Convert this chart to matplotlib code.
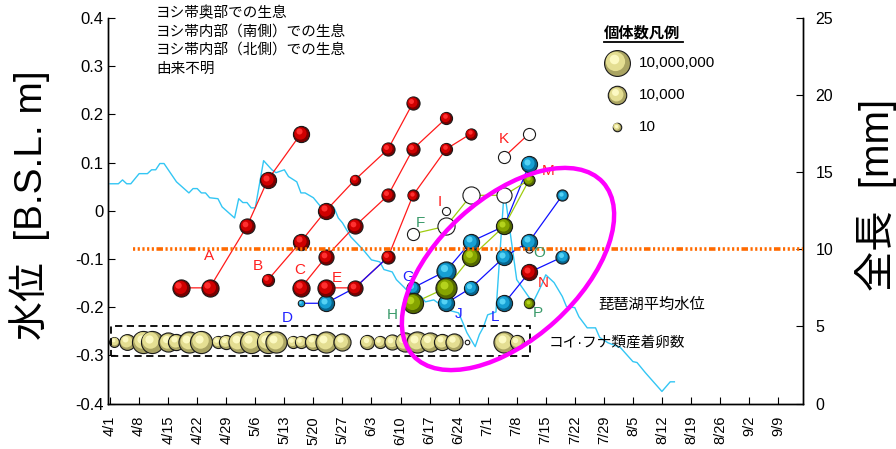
import matplotlib
matplotlib.use("Agg")
import matplotlib.pyplot as plt
import numpy as np
from datetime import date
from matplotlib.patches import Ellipse, Rectangle
from matplotlib.lines import Line2D
from matplotlib.transforms import offset_copy

plt.rcParams['font.family'] = ['Liberation Sans', 'Noto Sans CJK JP']
plt.rcParams['axes.unicode_minus'] = False

# ---------------- data ----------------
# Lake Biwa mean water level (days after 4/1, m B.S.L.)
wl_day = [0, 2, 3, 4, 5, 7, 9, 10, 11, 12, 13, 16, 19, 20, 21, 22, 23, 24, 26, 27,
          30, 31, 32, 33, 34, 35, 37, 39, 40, 42, 43, 45, 46, 47, 49, 51, 54, 55, 56, 58,
          61, 63, 65, 66, 68, 69, 71, 72, 74, 75, 76, 78, 79, 81, 84, 85, 86, 88, 89, 90,
          91, 93, 95, 98, 101, 102, 104, 105, 107, 109, 110, 112, 113, 115, 117, 118, 120,
          123, 126, 127, 129, 133, 135, 136]
wl_level = [0.056, 0.056, 0.064, 0.056, 0.056, 0.077, 0.077, 0.085, 0.085, 0.098, 0.098,
            0.060, 0.037, 0.046, 0.046, 0.037, 0.037, 0.027, 0.025, 0.008, -0.015, 0.025,
            0.017, 0.017, 0.006, 0.006, 0.104, 0.085, 0.079, 0.085, 0.071, 0.060, 0.037,
            0.037, 0.027, 0.006, 0.006, -0.015, -0.025, -0.054, -0.081, -0.102, -0.106,
            -0.122, -0.127, -0.143, -0.160, -0.170, -0.174, -0.178, -0.189, -0.185, -0.191,
            -0.205, -0.212, -0.232, -0.253, -0.282, -0.257, -0.241, -0.216, -0.210, 0.044,
            -0.143, -0.180, -0.189, -0.154, -0.133, -0.149, -0.178, -0.199, -0.201, -0.220,
            -0.243, -0.243, -0.263, -0.274, -0.284, -0.313, -0.315, -0.336, -0.375, -0.355,
            -0.355]

# carp / crucian carp eggs attached (survey days after 4/1, counts)
egg_day = [1, 4, 8, 10, 14, 16, 19, 22, 26, 28, 31, 34, 38, 40, 44, 46, 49, 52, 56,
           62, 65, 68, 71, 74, 77, 80, 83, 86, 95, 98]
egg_count = [25, 1300, 220000, 220000, 17000, 1700, 93000, 220000, 100, 400, 93000,
             220000, 220000, 93000, 100, 100, 1700, 93000, 3600, 400, 100, 800, 17000,
             93000, 17000, 1700, 3600, 1, 93000, 400]

# cohorts: sampling dates, total length (mm), individuals
A_date = ['4/18', '4/25', '5/4', '5/9', '5/17']
A_len = [7.5, 7.5, 11.5, 14.5, 17.5]
A_n = [3600, 3600, 800, 1700, 1700]

B_date = ['5/9', '5/17', '5/23', '5/30', '6/7', '6/13']
B_len = [8.0, 10.5, 12.5, 14.5, 16.5, 19.5]
B_n = [100, 1700, 1700, 30, 200, 200]

C_date = ['5/17', '5/23', '5/30', '6/7', '6/13', '6/21']
C_len = [7.5, 9.5, 11.5, 13.5, 16.5, 18.5]
C_n = [3600, 800, 800, 200, 200, 100]

E_date = ['5/23', '5/30', '6/7', '6/13', '6/21', '6/27']
E_len = [7.5, 7.5, 9.5, 13.5, 16.5, 17.5]
E_n = [3600, 800, 200, 55, 100, 55]

D_date = ['5/17', '5/23', '5/30', '6/7']
D_len = [6.5, 6.5, 7.5, 9.5]
D_n = [3, 1700, 30, 30]

G_date = ['6/13', '6/21', '6/27', '7/5', '7/11']
G_len = [7.5, 8.6, 10.5, 11.5, 15.5]
G_n = [200, 17000, 1700, 800, 1700]

J_date = ['6/21', '6/27', '7/5', '7/11', '7/19']
J_len = [6.5, 7.5, 9.5, 10.5, 13.5]
J_n = [1700, 400, 1700, 1700, 55]

L_date = ['7/5', '7/11', '7/19']
L_len = [6.5, 8.5, 9.5]
L_n = [1700, 200, 200]

H_date = ['6/13', '6/21', '6/27', '7/5', '7/11']
H_len = [6.5, 7.5, 9.5, 11.5, 14.5]
H_n = [40000, 93000, 8000, 1700, 55]

F_date = ['6/13', '6/21', '6/27', '7/5', '7/11']
F_len = [11.0, 11.5, 13.5, 13.5, 14.5]
F_n = [100, 3600, 3600, 800, 30]

I_date, I_len, I_n = ['6/21'], [12.5], [8]
K_date, K_len, K_n = ['7/5', '7/11'], [16.0, 17.5], [100, 100]
N_date, N_len, N_n = ['7/11'], [8.5], [1700]
O_date, O_len, O_n = ['7/11'], [10.0], [5]
P_date, P_len, P_n = ['7/11'], [6.5], [30]

size_legend = [10000000, 10000, 10]
threshold_mm = 10

# ---------------- helpers ----------------
START = date(2001, 4, 1)


def day(md):
    m, d = (int(v) for v in md.split('/'))
    return (date(2001, m, d) - START).days


def days(lst):
    return [day(v) for v in lst]


def diam_px(n):
    L = np.log10(float(n))
    return 5.39 + 4.056 * L - 0.1444 * L ** 2


RED = ('#7a0000', '#cf0000', '#ff3030')
BLUE = ('#06668f', '#169fd3', '#55d2f4')
OLIVE = ('#536800', '#86a400', '#b4d21c')
EGG = ('#aaa462', '#e4de92', '#fcf9c2')

fig = plt.figure(figsize=(8.96, 4.49), dpi=100)
ax = fig.add_axes([108 / 896, 1 - 403.5 / 449, 695 / 896, 385.5 / 449])
ax2 = ax.twinx()
for a in (ax, ax2):
    a.set_xlim(-0.5, 167)
    a.spines['top'].set_visible(False)
ax.set_ylim(-0.4, 0.4)
ax2.set_ylim(0, 25)


def ball(a, x, y, n, pal, z, trans=None):
    d = diam_px(n) * 72 / fig.dpi
    base = a.transData if trans is None else trans
    a.scatter([x], [y], s=(d - 0.6) ** 2, c=pal[0], edgecolors='#1a1a1a',
              linewidths=0.8, zorder=z, transform=base)
    t1 = offset_copy(base, fig=fig, x=-d * 0.06, y=d * 0.06, units='points')
    a.scatter([x], [y], s=(d * 0.72) ** 2, c=pal[1], linewidths=0, zorder=z,
              transform=t1)
    t2 = offset_copy(base, fig=fig, x=-d * 0.12, y=d * 0.14, units='points')
    a.scatter([x], [y], s=(d * 0.36) ** 2, c=pal[2], linewidths=0, zorder=z,
              transform=t2)


def open_ball(a, x, y, n, z):
    d = diam_px(n) * 72 / fig.dpi
    a.scatter([x], [y], s=(d - 0.6) ** 2, c='white', edgecolors='#1a1a1a',
              linewidths=0.8, zorder=z)


# ---------------- water level & eggs (left axis) ----------------
ax.plot(wl_day, wl_level, color='#33c6f4', lw=1.0, zorder=2)

EGG_ROW = -0.272
for x, n in zip(egg_day, egg_count):
    if n <= 1:
        open_ball(ax, x, EGG_ROW, n, 3)
    else:
        ball(ax, x, EGG_ROW, n, EGG, 3)
ax.add_patch(Rectangle((0.3, -0.302), 100.9, 0.062, fill=False, ec='black',
                       lw=1.3, ls=(0, (4, 2.5)), zorder=4))

# ---------------- cohorts (right axis) ----------------
line_styles = [
    (A_date, A_len, '#ff1a1a'), (B_date, B_len, '#ff1a1a'),
    (C_date, C_len, '#ff1a1a'), (E_date, E_len, '#ff1a1a'),
    (K_date, K_len, '#ff1a1a'),
    (D_date, D_len, '#1010ff'), (G_date, G_len, '#1010ff'),
    (J_date, J_len, '#1010ff'), (L_date, L_len, '#1010ff'),
    (F_date, F_len, '#9fcc10'), (H_date, H_len, '#9fcc10'),
]
for dts, ln, col in line_styles:
    ax2.plot(days(dts), ln, color=col, lw=0.9, zorder=2)

for dts, ln, ns in [(F_date, F_len, F_n), (I_date, I_len, I_n),
                    (K_date, K_len, K_n), (O_date, O_len, O_n)]:
    for x, y, n in zip(days(dts), ln, ns):
        open_ball(ax2, x, y, n, 3)
for dts, ln, ns in [(D_date, D_len, D_n), (G_date, G_len, G_n),
                    (J_date, J_len, J_n), (L_date, L_len, L_n)]:
    for x, y, n in zip(days(dts), ln, ns):
        ball(ax2, x, y, n, BLUE, 4)
for dts, ln, ns in [(H_date, H_len, H_n), (P_date, P_len, P_n)]:
    for x, y, n in zip(days(dts), ln, ns):
        ball(ax2, x, y, n, OLIVE, 5)
for dts, ln, ns in [(A_date, A_len, A_n), (B_date, B_len, B_n),
                    (C_date, C_len, C_n), (E_date, E_len, E_n),
                    (N_date, N_len, N_n)]:
    for x, y, n in zip(days(dts), ln, ns):
        ball(ax2, x, y, n, RED, 6)

# 10 mm reference line
ax2.axhline(threshold_mm, xmin=0.036, xmax=1, color='#ff6a00', lw=2.6,
            ls=(0, (0.6, 0.7, 0.6, 0.7, 0.6, 0.7, 0.6, 0.7, 0.6, 0.7, 1.8, 0.7)),
            zorder=7)

# cohort labels
RC, BC, GC = '#ff2020', '#2020ff', '#3a9a6a'
cohort_labels = [
    ('A', 23.9, 9.57, RC), ('B', 35.7, 8.92, RC), ('C', 45.8, 8.66, RC),
    ('E', 54.7, 8.14, RC), ('D', 42.7, 5.54, BC), ('F', 74.7, 11.71, GC),
    ('G', 71.8, 8.2, BC), ('H', 68.0, 5.74, GC), ('I', 79.5, 13.07, RC),
    ('J', 83.9, 5.80, BC), ('K', 95.0, 17.15, RC), ('L', 92.8, 5.61, BC),
    ('M', 105.6, 15.08, RC), ('N', 104.4, 7.81, RC), ('O', 103.4, 9.76, GC),
    ('P', 103.2, 5.87, GC),
]
for s, x, y, c in cohort_labels:
    ax2.text(x, y, s, color=c, fontsize=11, ha='center', va='center', zorder=8)

# ---------------- axes styling ----------------
yt = [-0.4, -0.3, -0.2, -0.1, 0, 0.1, 0.2, 0.3, 0.4]
ax.set_yticks(yt, labels=['-0.4', '-0.3', '-0.2', '-0.1', '0', '0.1', '0.2', '0.3', '0.4'])
xt = list(range(0, 162, 7))
xl = []
for t in xt:
    dd = date.fromordinal(START.toordinal() + t)
    xl.append(f'{dd.month}/{dd.day}')
ax.set_xticks(xt, labels=xl)
ax2.set_yticks([0, 5, 10, 15, 20, 25])
ax.tick_params(axis='y', direction='in', length=5, pad=3, labelsize=12)
ax.tick_params(axis='x', direction='in', length=5, pad=9, labelsize=10.5,
               labelrotation=90)
ax2.tick_params(axis='y', direction='in', length=5, pad=9, labelsize=11.5)
for a in (ax, ax2):
    for sp in a.spines.values():
        sp.set_linewidth(1.0)

fig.text(30 / 896, 1 - 205 / 449, '水位  [B.S.L. m]', rotation=90, ha='center',
         va='center', fontsize=28)
fig.text(876 / 896, 1 - 195 / 449, '全長  [mm]', rotation=90, ha='center',
         va='center', fontsize=29)

# habitat notes
for i, s in enumerate(['ヨシ帯奥部での生息', 'ヨシ帯内部（南側）での生息',
                       'ヨシ帯内部（北側）での生息', '由来不明']):
    fig.text(156 / 896, 1 - (13 + 18.5 * i) / 449, s, fontsize=10.5,
             ha='left', va='center')

# size legend
ax2.text(0.7137, 0.961, '個体数凡例', transform=ax.transAxes, fontsize=11,
         fontweight='bold', ha='left', va='center', zorder=8)
ax2.add_line(Line2D([0.7137, 0.8276], [0.9385, 0.9385], transform=ax.transAxes,
                    color='black', lw=1.3, zorder=8))
for yy, n, lab in zip([0.8833, 0.8003, 0.7173], size_legend,
                      ['10,000,000', '10,000', '10']):
    ball(ax2, 0.7324, yy, n, EGG, 8, trans=ax.transAxes)
    ax2.text(0.764, yy, lab, transform=ax.transAxes, fontsize=11, ha='left',
             va='center', zorder=8)

ax2.text(0.705, 0.2555, '琵琶湖平均水位', transform=ax.transAxes, fontsize=11,
         ha='left', va='center', zorder=8)
ax2.text(0.6345, 0.157, 'コイ·フナ類産着卵数', transform=ax.transAxes,
         fontsize=10.5, ha='left', va='center', zorder=8)

# highlighted cluster
fig.add_artist(Ellipse((5.08, 1.80), 2.57, 1.41, angle=42.4, fill=False,
                       ec='#ff00ff', lw=3.2, transform=fig.dpi_scale_trans,
                       zorder=5))

fig.savefig('out.png', dpi=100)
